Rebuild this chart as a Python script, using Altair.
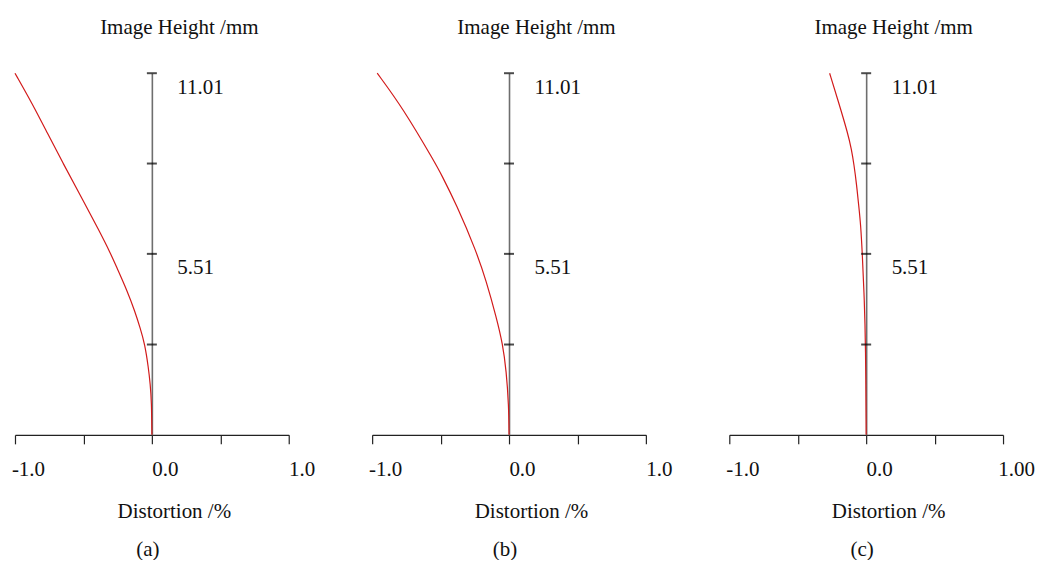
import altair as alt
import pandas as pd

FONT = "Times New Roman, Liberation Serif, serif"
FS = 21

# Panel (a)
h_a = [0, 1.0, 1.55, 2.04, 2.77, 3.25, 3.77, 4.38, 5.08, 5.51, 6.2, 7.33, 8.26, 9.2, 10.07, 11.01]
d_a = [0, -0.002, -0.012, -0.025, -0.052, -0.085, -0.125, -0.180, -0.255, -0.300, -0.383, -0.527, -0.648, -0.765, -0.872, -1.0]
# Panel (b)
h_b = [0, 0.9, 1.95, 2.76, 3.57, 4.69, 5.60, 7.02, 7.93, 8.25, 9.95, 11.01]
d_b = [0, -0.002, -0.020, -0.046, -0.092, -0.167, -0.240, -0.385, -0.495, -0.536, -0.776, -0.963]
# Panel (c)
h_c = [0, 2.76, 4.08, 5.50, 6.41, 7.0, 7.62, 8.23, 8.7, 9.15, 10.16, 11.01]
d_c = [0, -0.004, -0.013, -0.028, -0.040, -0.055, -0.070, -0.089, -0.108, -0.132, -0.204, -0.267]

y_ticks = [2.75, 5.51, 8.26, 11.01]
y_labels = [5.51, 11.01]
x_ticks = [-1.0, -0.5, 0.0, 0.5, 1.0]

panels = [
    ("(a)", h_a, d_a, "1.0"),
    ("(b)", h_b, d_b, "1.0"),
    ("(c)", h_c, d_c, "1.00"),
]

W, H = 274, 362


def panel(caption, hs, ds, right_label):
    df = pd.DataFrame({"h": hs, "d": ds})
    tdf = pd.DataFrame({"h": y_ticks, "d": [0.0] * len(y_ticks)})
    xscale = alt.Scale(domain=[-1, 1], nice=False, zero=False)
    yscale = alt.Scale(domain=[0, 11.01], nice=False)
    label_expr = (
        f"datum.value == -1 ? '-1.0' : datum.value == 0 ? '0.0' : "
        f"datum.value == 1 ? '{right_label}' : ''"
    )
    xaxis = alt.Axis(
        values=x_ticks, labelExpr=label_expr, grid=False,
        domainColor="#222", domainWidth=1.2, tickColor="#222", tickSize=9, tickWidth=1.2,
        labelFont=FONT, labelFontSize=FS, labelColor="#111", labelPadding=15,
        labelOffset=13, labelBaseline="top", labelFlush=False, labelOverlap=False,
        title="Distortion /%", titleFont=FONT, titleFontSize=FS, titleFontWeight="normal",
        titleColor="#111", titleX=159, titleY=83, titleAlign="center",
        titleBaseline="alphabetic",
    )
    yaxis = alt.Axis(
        orient="right", offset=-137, values=y_labels,
        labelExpr="format(datum.value, '.2f')", grid=False, ticks=False, tickSize=0,
        domainColor="#6e6e6e", domainWidth=1.6,
        labelFont=FONT, labelFontSize=FS, labelColor="#111", labelPadding=25,
        labelOffset=14, labelBaseline="middle", labelAlign="left", labelFlush=False,
        title="Image Height /mm", titleFont=FONT, titleFontSize=FS, titleFontWeight="normal",
        titleColor="#111", titleAngle=0, titleX=27, titleY=-40, titleAlign="center",
        titleBaseline="alphabetic",
    )
    line = alt.Chart(df).mark_line(color="#d21a1a", strokeWidth=1.2, interpolate="basis").encode(
        x=alt.X("d:Q", scale=xscale, axis=xaxis),
        y=alt.Y("h:Q", scale=yscale, axis=yaxis),
        order=alt.Order("h:Q"),
    )
    ticks = alt.Chart(tdf).mark_tick(orient="horizontal", size=10, thickness=2, color="#000").encode(
        x=alt.X("d:Q", scale=xscale),
        y=alt.Y("h:Q", scale=yscale),
    )
    return alt.layer(line, ticks).properties(
        width=W, height=H,
        title=alt.TitleParams(caption, orient="bottom", font=FONT, fontSize=FS,
                              fontWeight="normal", color="#111", offset=17, dx=-4),
    )


chart = alt.hconcat(*[panel(*p) for p in panels], spacing=52.5).properties(
    padding={"left": 3, "top": 8, "right": 0, "bottom": 0}
).configure(
    background="white",
    view=alt.ViewConfig(stroke=None),
    axis=alt.AxisConfig(grid=False),
)

chart.save("out.html", embed_options={"renderer": "svg", "actions": False})
